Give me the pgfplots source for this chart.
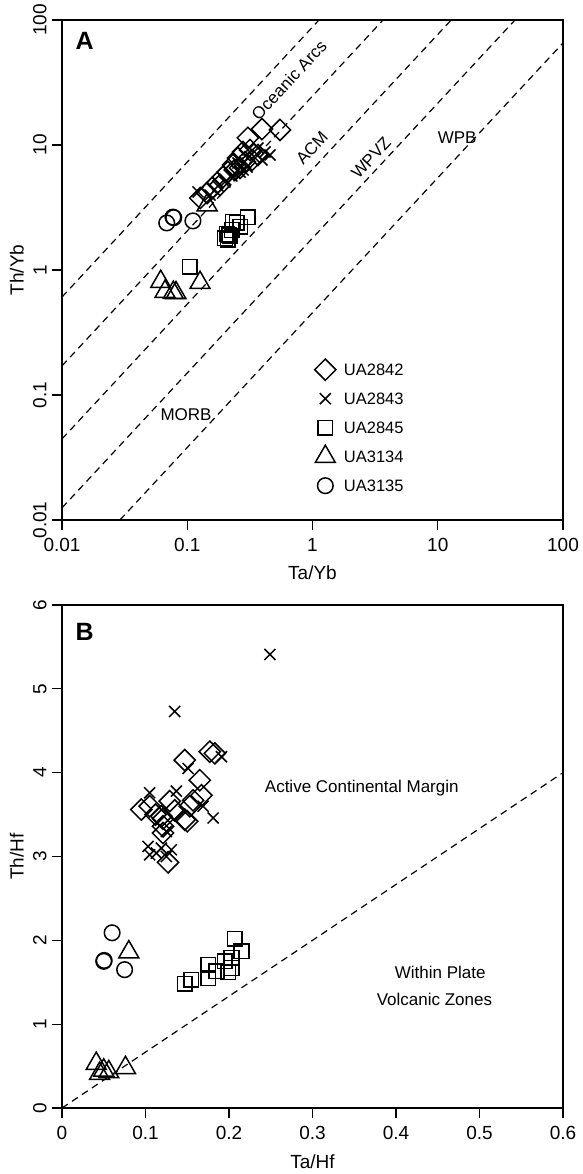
\documentclass[border=0pt]{standalone}
\usepackage{fontspec}
\setmainfont{Liberation Sans}
\usepackage{pgfplots}
\pgfplotsset{compat=1.18}

\newcommand{\tf}{\fontsize{19}{22}\selectfont}
\newcommand{\af}{\fontsize{17}{20}\selectfont}
\newcommand{\lf}{\fontsize{16.5}{20}\selectfont}
\pgfplotsset{
  basefr/.style={
    scale only axis, width=501pt,
    axis line style={line width=1.4pt},
    tick align=outside, major tick length=10pt,
    tick style={line width=1.2pt, black},
    xtick pos=bottom, ytick pos=left,
    ticklabel style={font=\tf},
    xticklabel style={yshift=-5pt},
    yticklabel style={rotate=90, anchor=south, yshift=2pt},
    label style={font=\tf},
    xlabel style={at={(axis description cs:0.5,-0.106)}, anchor=center},
    ylabel style={at={(axis description cs:-0.09,0.5)}, anchor=center},
    /pgf/number format/assume math mode=true,
  },
  dia/.style={only marks, mark=square, mark size=7.5pt, mark options={rotate=45, line width=1.5pt, fill=none, draw=black}},
  crs/.style={only marks, mark=x, mark size=7.8pt, mark options={line width=1.5pt, draw=black}},
  sqr/.style={only marks, mark=square, mark size=7.3pt, mark options={line width=1.5pt, fill=none, draw=black}},
  tri/.style={only marks, mark=triangle, mark size=11.5pt, mark options={line width=1.5pt, fill=none, draw=black}},
  cir/.style={only marks, mark=o, mark size=7.8pt, mark options={line width=1.5pt, draw=black}},
  refl/.style={black, line width=1.2pt, dash pattern=on 7pt off 5pt, forget plot},
}

\begin{document}
\begin{tikzpicture}
\useasboundingbox (0,0) rectangle (582pt,1174pt);

% ---------------- Panel A ----------------
\begin{axis}[basefr, at={(62pt,654pt)}, anchor=south west, height=500pt,
  xmode=log, ymode=log, xmin=0.01, xmax=100, ymin=0.01, ymax=100,
  xminorticks=false, yminorticks=false,
  xtick={0.01,0.1,1,10,100}, xticklabels={0.01,0.1,1,10,100},
  ytick={0.01,0.1,1,10,100}, yticklabels={0.01,0.1,1,10,100},
  xlabel={Ta/Yb}, ylabel={Th/Yb},
  legend cell align=left,
  legend style={draw=none, fill=none, at={(0.504,0.33)}, anchor=north west,
    inner sep=0pt, row sep=0pt, column sep=0pt, font=\lf,
    nodes={inner sep=0pt, text height=20.4pt, text depth=8.6pt}},
]
\addplot[refl] coordinates {(0.01,0.608) (1.127,100)};
\addplot[refl] coordinates {(0.01,0.171) (3.66,100)};
\addplot[refl] coordinates {(0.01,0.0445) (12.8,100)};
\addplot[refl] coordinates {(0.01,0.0125) (41.4,100)};
\addplot[refl] coordinates {(0.029,0.01) (100,65.5)};

\addplot[dia] coordinates {
(0.550,13.2) (0.395,13.4) (0.305,11.4) (0.279,8.79) (0.254,7.87) (0.232,6.92)
(0.211,6.08) (0.193,5.55) (0.173,4.97) (0.158,4.53) (0.144,4.13) (0.127,3.77)
(0.329,7.59) (0.367,8.32) (0.289,7.31) (0.264,6.55) (0.240,6.31) (0.317,9.12)
(0.183,4.79)};
\addlegendentry{\hspace{8pt}UA2842}
\addplot[crs] coordinates {
(0.122,4.21) (0.458,8.32) (0.395,7.59) (0.348,7.87) (0.300,6.67) (0.264,6.08)
(0.227,5.65) (0.200,5.06) (0.176,4.70) (0.152,3.98) (0.367,9.46) (0.305,9.12)
(0.254,7.18) (0.418,8.79) (0.279,6.31)};
\addlegendentry{\hspace{8pt}UA2843}
\addplot[sqr] coordinates {
(0.105,1.06) (0.305,2.65) (0.249,2.38) (0.232,2.42) (0.264,2.21) (0.227,2.09)
(0.207,1.94) (0.200,1.80) (0.211,1.74) (0.219,1.87) (0.215,1.90)};
\addlegendentry{\hspace{8pt}UA2845}
\addplot[tri] coordinates {
(0.0614,0.806) (0.0664,0.670) (0.0774,0.658) (0.0813,0.655) (0.1265,0.791) (0.144,3.31)};
\addlegendentry{\hspace{8pt}UA3134}
\addplot[cir] coordinates {
(0.0686,2.38) (0.0769,2.65) (0.0780,2.62) (0.111,2.47)};
\addlegendentry{\hspace{8pt}UA3135}

\node[rotate=47, font=\af] at (axis cs:0.648,33.1) {Oceanic Arcs};
\node[rotate=47, font=\af] at (axis cs:0.99,9.46) {ACM};
\node[rotate=47, font=\af] at (axis cs:2.93,7.87) {WPVZ};
\node[font=\af] at (axis cs:14.3,11.4) {WPB};
\node[font=\af] at (axis cs:0.0978,0.0692) {MORB};
\node[font=\fontsize{25}{28}\selectfont\bfseries] at (rel axis cs:0.045,0.958) {A};
\end{axis}

% ---------------- Panel B ----------------
\begin{axis}[basefr, at={(62pt,66pt)}, anchor=south west, height=503pt,
  xmin=0, xmax=0.6, ymin=0, ymax=6,
  xtick={0,0.1,0.2,0.3,0.4,0.5,0.6}, xticklabels={0,0.1,0.2,0.3,0.4,0.5,0.6},
  ytick={0,1,2,3,4,5,6}, yticklabels={0,1,2,3,4,5,6},
  xlabel={Ta/Hf}, ylabel={Th/Hf},
]
\addplot[refl] coordinates {(0,0) (0.6,4.0)};

\addplot[dia] coordinates {
(0.177,4.25) (0.183,4.23) (0.147,4.15) (0.165,3.91) (0.167,3.73) (0.157,3.67)
(0.153,3.60) (0.147,3.44) (0.150,3.42) (0.129,3.66) (0.095,3.56) (0.105,3.60)
(0.119,3.48) (0.121,3.45) (0.121,3.28) (0.127,2.93) (0.121,3.36) (0.135,3.55)
(0.112,3.50)};
\addplot[crs] coordinates {
(0.249,5.41) (0.135,4.73) (0.191,4.19) (0.181,3.46) (0.105,3.76) (0.151,4.05)
(0.105,3.02) (0.113,3.04) (0.119,3.10) (0.131,3.08) (0.125,3.00) (0.103,3.12)
(0.137,3.78) (0.169,3.60) (0.125,3.30)};
\addplot[sqr] coordinates {
(0.207,2.02) (0.215,1.87) (0.203,1.79) (0.203,1.67) (0.195,1.75) (0.185,1.63)
(0.175,1.71) (0.175,1.55) (0.155,1.53) (0.147,1.48) (0.199,1.62)};
\addplot[tri] coordinates {
(0.041,0.53) (0.050,0.45) (0.045,0.41) (0.056,0.43) (0.076,0.48) (0.080,1.86)};
\addplot[cir] coordinates {
(0.050,1.75) (0.0505,1.76) (0.060,2.09) (0.075,1.65)};

\node[font=\af] at (axis cs:0.359,3.81) {Active Continental Margin};
\node[font=\af] at (axis cs:0.453,1.62) {Within Plate};
\node[font=\af] at (axis cs:0.446,1.30) {Volcanic Zones};
\node[font=\fontsize{25}{28}\selectfont\bfseries] at (rel axis cs:0.045,0.946) {B};
\end{axis}
\end{tikzpicture}
\end{document}
